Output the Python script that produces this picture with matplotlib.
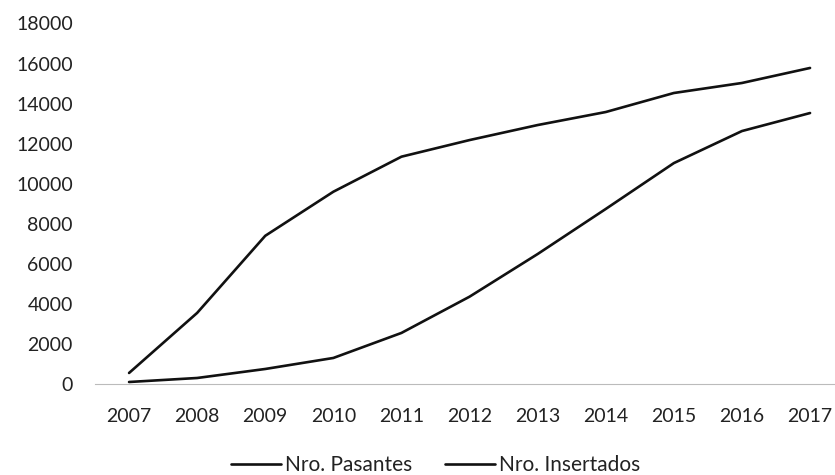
import matplotlib
matplotlib.use("Agg")
import matplotlib.pyplot as plt

years = [2007, 2008, 2009, 2010, 2011, 2012, 2013, 2014, 2015, 2016, 2017]
pasantes = [550, 3550, 7400, 9600, 11350, 12180, 12930, 13580, 14530, 15030, 15780]
insertados = [100, 300, 750, 1300, 2550, 4360, 6490, 8740, 11030, 12630, 13530]
y_ticks = [0, 2000, 4000, 6000, 8000, 10000, 12000, 14000, 16000, 18000]
labels = ["Nro. Pasantes", "Nro. Insertados"]

plt.rcParams['font.family'] = ['Lato', 'DejaVu Sans']

fig = plt.figure(figsize=(8.35, 4.75), dpi=100)
ax = fig.add_axes([95/835, (475-384)/475, 1 - 95/835, (384-23.5)/475])

ax.plot(years, pasantes, color='#111111', lw=1.9, label=labels[0], solid_capstyle='round', solid_joinstyle='round')
ax.plot(years, insertados, color='#111111', lw=1.9, label=labels[1], solid_capstyle='round', solid_joinstyle='round')

ax.set_xlim(2006.5, 2006.5 + (835 - 95) / 68.1)
ax.set_ylim(0, 18000)
ax.set_yticks(y_ticks)
ax.set_yticklabels([str(v) for v in y_ticks])
ax.set_xticks(years)
ax.set_xticklabels([str(y) for y in years])

for s in ['left', 'right', 'top']:
    ax.spines[s].set_visible(False)
ax.spines['bottom'].set_color('#bbbbbb')
ax.spines['bottom'].set_linewidth(0.8)

ax.tick_params(axis='y', length=0, pad=16, labelsize=14, colors='#222222')
ax.tick_params(axis='x', length=0, pad=17, labelsize=14, colors='#222222')

fig.legend(loc='center', bbox_to_anchor=(0.5216, 0.021), ncol=2, frameon=False,
           fontsize=15, handlelength=2.4, handletextpad=0.2, columnspacing=1.55,
           labelcolor='#222222', borderpad=0)

fig.savefig('out.png', dpi=100, facecolor='white')
